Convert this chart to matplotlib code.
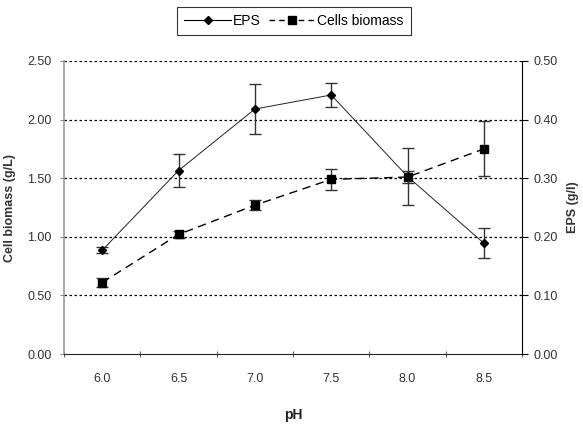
import matplotlib
matplotlib.use("Agg")
import matplotlib.pyplot as plt
from matplotlib.lines import Line2D
from matplotlib import font_manager

# Data
ph_labels = ["6.0", "6.5", "7.0", "7.5", "8.0", "8.5"]
biomass = [0.61, 1.02, 1.27, 1.49, 1.51, 1.75]
biomass_err = [0.04, 0.03, 0.04, 0.09, 0.05, 0.235]
eps = [0.177, 0.313, 0.418, 0.442, 0.303, 0.189]
eps_err = [0.005, 0.028, 0.042, 0.02, 0.048, 0.026]
left_ticks = [0.0, 0.5, 1.0, 1.5, 2.0, 2.5]
right_ticks = [0.0, 0.1, 0.2, 0.3, 0.4, 0.5]

names = {f.name for f in font_manager.fontManager.ttflist}
narrow = "Liberation Sans Narrow" if "Liberation Sans Narrow" in names else "Liberation Sans"
plt.rcParams["font.family"] = [narrow, "DejaVu Sans"]

fig = plt.figure(figsize=(5.83, 4.25), dpi=100)
ax = fig.add_axes([0.1098, 0.167, 0.7856, 0.6895])
ax2 = ax.twinx()

x = list(range(len(ph_labels)))

# gridlines (left scale)
for v in left_ticks[1:]:
    ax.axhline(v, color="black", lw=0.9, ls=(0, (2, 2)), zorder=0)

ax.errorbar(x, biomass, yerr=biomass_err, color="black", lw=1.0,
            ls=(0, (6, 4)), marker="s", ms=6, capsize=4, elinewidth=1.0,
            ecolor="#333333", zorder=3)
ax2.errorbar(x, eps, yerr=eps_err, color="#222222", lw=0.7, ls="-",
             marker="D", ms=4, mfc="black", mec="black", capsize=4,
             elinewidth=1.0, ecolor="#333333", zorder=3)

ax.set_xlim(-0.5, len(x) - 0.5)
ax.set_ylim(0, 2.5)
ax2.set_ylim(0, 0.5)

ax.set_xticks(x)
ax.set_xticklabels(ph_labels, fontsize=9, color="#333333")
ax.set_xticks([i - 0.5 for i in range(len(x) + 1)], minor=True)
ax.tick_params(axis="x", which="major", length=0, pad=14)
ax.tick_params(axis="x", which="minor", length=4, direction="inout", color="#444444")

ax.set_yticks(left_ticks)
ax.set_yticklabels([f"{v:.2f}" for v in left_ticks], fontsize=9, color="#333333")
ax.tick_params(axis="y", length=3, direction="out", color="#888888", pad=6)
ax2.set_yticks(right_ticks)
ax2.set_yticklabels([f"{v:.2f}" for v in right_ticks], fontsize=9, color="#333333")
ax2.tick_params(axis="y", length=4, direction="out", color="black", pad=4)

for a in (ax, ax2):
    a.spines["top"].set_visible(False)
ax.spines["left"].set_color("#999999")
ax.spines["left"].set_linewidth(1.2)
ax.spines["bottom"].set_color("#222222")
ax2.spines["left"].set_visible(False)
ax2.spines["bottom"].set_visible(False)
ax2.spines["right"].set_color("black")
ax.spines["right"].set_visible(False)

ax.set_ylabel("Cell biomass (g/L)", fontsize=9, fontweight="bold", color="#333333")
ax.yaxis.set_label_coords(-0.105, 0.5)
ax2.set_ylabel("EPS (g/l)", fontsize=9, fontweight="bold", color="#333333")
ax2.yaxis.set_label_coords(1.098, 0.5)
ax.set_xlabel("pH", fontsize=10, fontweight="bold", color="#222222")
ax.xaxis.set_label_coords(0.5, -0.184)

handles = [
    Line2D([], [], color="black", lw=0.8, marker="D", ms=4),
    Line2D([], [], color="black", lw=1.0, ls=(0, (4, 3)), marker="s", ms=6),
]
leg = fig.legend(handles, ["EPS", "Cells biomass"], loc="center",
                 bbox_to_anchor=(294 / 583, 1 - 21 / 425), ncol=2,
                 frameon=True, fancybox=False, edgecolor="black",
                 fontsize=10, handlelength=3.4, handletextpad=0.1,
                 columnspacing=0.6, borderpad=0.5)
leg.get_frame().set_linewidth(0.8)

fig.savefig("out.png", dpi=100)
